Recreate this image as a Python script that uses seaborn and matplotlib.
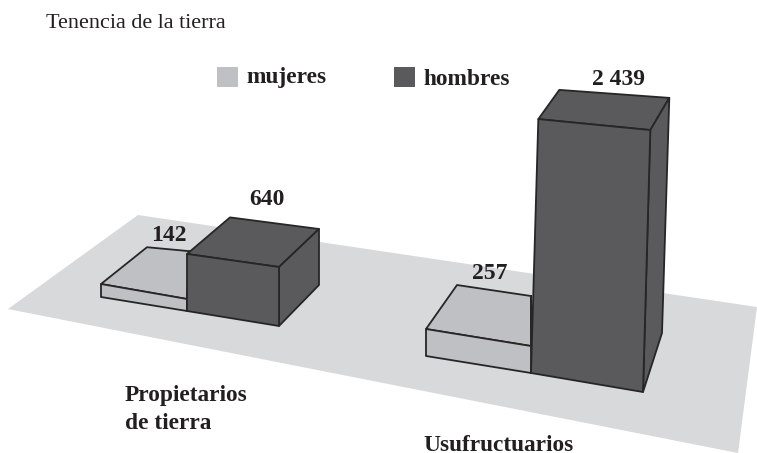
import numpy as np
import pandas as pd
import matplotlib
matplotlib.use("Agg")
import matplotlib.pyplot as plt
import seaborn as sns
from matplotlib.patches import Polygon, Rectangle
from matplotlib.transforms import Transform

# Data
grupos = ["Propietarios", "Usufructuarios"]
sexos = ["mujeres", "hombres"]
mujeres = [142, 257]
hombres = [640, 2439]
etiquetas = ["142", "257", "640", "2 439"]

COLOR_MUJERES = "#bfc0c3"
COLOR_HOMBRES = "#5a5a5d"
COLOR_PISO = "#d8d9db"
COLOR_LINEA = "#262626"
TEXTO = "#231f20"

df = pd.DataFrame({
    "grupo": grupos * 2,
    "sexo": ["mujeres"] * 2 + ["hombres"] * 2,
    "valor": mujeres + hombres,
})

# Drawing geometry in pixels: foot of each corner of a bar on the floor
# (front left, front right, back right, back left) and pixels per unit of
# value at each corner, plus a small sideways lean per unit.
GEOM = {
    ("mujeres", 0): dict(base=[(101, 297), (187, 311), (190, 264), (147, 260)],
                         k=[0.0915, 0.0845, 0.09, 0.09], lean=0),
    ("mujeres", 1): dict(base=[(426, 356), (531, 373), (531, 323), (457, 312)],
                         k=[0.105, 0.105, 0.105, 0.105], lean=0),
    ("hombres", 0): dict(base=[(187, 311), (279, 326), (319, 285), (230, 275)],
                         k=[0.0891, 0.0922, 0.0875, 0.09], lean=0),
    ("hombres", 1): dict(base=[(531, 373), (643, 392), (662, 333), (552, 315)],
                         k=[0.1041, 0.1074, 0.0964, 0.0923], lean=0.003),
}


class FrenteBarra(Transform):
    """Maps a bar rectangle (x, value) onto its skewed front face in pixels."""
    input_dims = 2
    output_dims = 2

    def __init__(self, x0, ancho, geom):
        super().__init__()
        self.x0, self.ancho, self.geom = x0, ancho, geom

    def transform_non_affine(self, values):
        values = np.asarray(values, dtype=float)
        t = ((values[:, 0] - self.x0) / self.ancho)[:, None]
        v = values[:, 1]
        izq = esquina(self.geom, 0, v)
        der = esquina(self.geom, 1, v)
        return izq * (1 - t) + der * t


def esquina(geom, i, v):
    v = np.atleast_1d(v)
    bx, by = geom["base"][i]
    return np.column_stack([bx + geom["lean"] * v, by - geom["k"][i] * v])


sns.set_theme(style="white")
plt.rcParams["font.family"] = ["Liberation Serif", "DejaVu Serif"]

fig = plt.figure(figsize=(7.57, 4.53), dpi=100)
ax = fig.add_axes([0, 0, 1, 1])

sns.barplot(data=df, x="grupo", y="valor", hue="sexo", order=grupos, hue_order=sexos,
            palette=[COLOR_MUJERES, COLOR_HOMBRES], saturation=1, legend=False, ax=ax)

ax.set_xlim(0, 757)
ax.set_ylim(453, 0)
ax.set_axis_off()

# Floor
ax.add_patch(Polygon([(8, 309), (138, 215), (757, 307), (738, 453)],
                     facecolor=COLOR_PISO, edgecolor="none", zorder=0))

# Bars: seaborn front faces warped into place, top and side built from their heights
for h, sexo in enumerate(sexos):
    color = COLOR_MUJERES if sexo == "mujeres" else COLOR_HOMBRES
    for g, bar in enumerate(ax.containers[h]):
        geom = GEOM[(sexo, g)]
        valor = bar.get_height()
        z = 2 + h * 2
        bar.set_transform(FrenteBarra(bar.get_x(), bar.get_width(), geom) + ax.transData)
        bar.set(edgecolor=COLOR_LINEA, linewidth=1.3, zorder=z + 1, joinstyle="round")

        tope = [esquina(geom, i, valor)[0] for i in range(4)]
        ax.add_patch(Polygon(tope, facecolor=color, edgecolor=COLOR_LINEA,
                             linewidth=1.3, zorder=z, joinstyle="round"))
        lado = [tope[1], tope[2], geom["base"][2], geom["base"][1]]
        ax.add_patch(Polygon(lado, facecolor=color, edgecolor=COLOR_LINEA,
                             linewidth=1.3, zorder=z, joinstyle="round"))

# Value labels
posiciones = [(168.5, 241), (490, 279), (266.5, 205), (618.5, 85)]
for txt, (x, y) in zip(etiquetas, posiciones):
    ax.text(x, y, txt, ha="center", va="baseline", fontsize=17, fontweight="bold",
            color=TEXTO, zorder=10)

# Legend
for x, color, nombre, xt, yt in [(217, COLOR_MUJERES, "mujeres", 246, 83),
                                 (394, COLOR_HOMBRES, "hombres", 423, 85)]:
    ax.add_patch(Rectangle((x, 66.5), 20.5, 20, facecolor=color, edgecolor="none", zorder=5))
    ax.text(xt, yt, nombre, ha="left", va="baseline", fontsize=16.8, fontweight="bold",
            color=TEXTO)

# Title and group names
ax.text(46, 28, "Tenencia de la tierra", ha="left", va="baseline", fontsize=15.9, color=TEXTO)
ax.text(125, 401, "Propietarios", ha="left", va="baseline", fontsize=16.8,
        fontweight="bold", color=TEXTO)
ax.text(125, 429, "de tierra", ha="left", va="baseline", fontsize=16.8,
        fontweight="bold", color=TEXTO)
ax.text(423, 451, "Usufructuarios", ha="left", va="baseline", fontsize=16.8,
        fontweight="bold", color=TEXTO)

plt.savefig("out.png", dpi=100)
plt.close()
